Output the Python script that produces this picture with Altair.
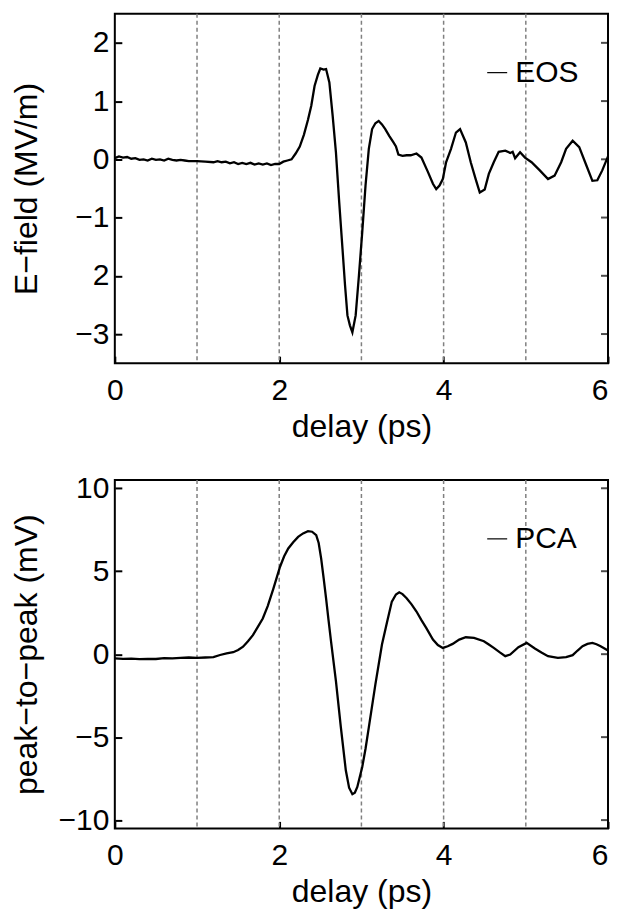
import altair as alt
import pandas as pd

FONT = "Liberation Sans"

# ---- EOS trace (top panel) ----
eos_t = [0.00, 0.05, 0.10, 0.15, 0.20, 0.25, 0.30, 0.35, 0.40, 0.45, 0.50, 0.55,
         0.60, 0.65, 0.70, 0.75, 0.80, 0.85, 0.90, 1.00, 1.10, 1.20, 1.25, 1.30,
         1.35, 1.40, 1.45, 1.50, 1.55, 1.60, 1.65, 1.70, 1.75, 1.80, 1.85, 1.90,
         1.95, 2.00, 2.05, 2.10, 2.15, 2.20, 2.25, 2.30, 2.35, 2.39, 2.43, 2.47,
         2.50, 2.54, 2.57, 2.61, 2.65, 2.69, 2.73, 2.77, 2.80, 2.83, 2.86, 2.89,
         2.93, 2.97, 3.01, 3.05, 3.09, 3.13, 3.17, 3.21, 3.25, 3.29, 3.34, 3.39,
         3.42, 3.45, 3.50, 3.55, 3.60, 3.67, 3.73, 3.81, 3.87, 3.91, 3.95, 3.99,
         4.03, 4.09, 4.15, 4.20, 4.27, 4.33, 4.39, 4.44, 4.50, 4.55, 4.61, 4.67,
         4.75, 4.81, 4.84, 4.87, 4.93, 4.99, 5.07, 5.17, 5.27, 5.35, 5.43, 5.49,
         5.57, 5.65, 5.73, 5.81, 5.87, 5.93, 6.00]
eos_v = [0.02, 0.05, 0.03, 0.04, 0.01, 0.02, -0.01, 0.00, -0.02, 0.01, -0.01, 0.00,
         -0.02, 0.01, -0.01, -0.02, -0.01, -0.02, -0.03, -0.03, -0.04, -0.05, -0.03, -0.05,
         -0.04, -0.07, -0.05, -0.08, -0.06, -0.08, -0.06, -0.09, -0.07, -0.09, -0.07, -0.10,
         -0.08, -0.08, -0.04, -0.02, 0.00, 0.10, 0.22, 0.42, 0.68, 0.92, 1.26, 1.45,
         1.56, 1.54, 1.55, 1.32, 0.75, 0.12, -0.74, -1.54, -2.15, -2.68, -2.85, -2.97,
         -2.68, -1.99, -1.25, -0.45, 0.18, 0.52, 0.62, 0.66, 0.60, 0.52, 0.40, 0.29,
         0.22, 0.08, 0.06, 0.07, 0.07, 0.10, 0.03, -0.22, -0.42, -0.51, -0.45, -0.34,
         -0.05, 0.18, 0.46, 0.52, 0.29, -0.05, -0.34, -0.57, -0.52, -0.25, -0.05, 0.13,
         0.15, 0.11, 0.13, 0.02, 0.12, 0.03, -0.05, -0.19, -0.34, -0.28, -0.05, 0.18,
         0.32, 0.21, -0.08, -0.37, -0.36, -0.19, 0.05]

# ---- PCA trace (bottom panel) ----
pca_t = [0.00, 0.10, 0.20, 0.30, 0.40, 0.50, 0.60, 0.70, 0.80, 0.90, 1.00, 1.10,
         1.20, 1.28, 1.36, 1.44, 1.50, 1.56, 1.62, 1.68, 1.74, 1.80, 1.86, 1.93,
         2.01, 2.06, 2.11, 2.17, 2.23, 2.29, 2.35, 2.40, 2.45, 2.48, 2.51, 2.54,
         2.57, 2.60, 2.63, 2.69, 2.75, 2.81, 2.85, 2.89, 2.92, 2.95, 3.01, 3.05,
         3.09, 3.17, 3.25, 3.31, 3.37, 3.42, 3.46, 3.50, 3.55, 3.61, 3.67, 3.73,
         3.79, 3.87, 3.93, 3.99, 4.05, 4.11, 4.19, 4.27, 4.37, 4.49, 4.55, 4.61,
         4.68, 4.75, 4.81, 4.91, 5.01, 5.11, 5.19, 5.27, 5.39, 5.49, 5.57, 5.63,
         5.69, 5.75, 5.81, 5.86, 5.91, 6.00]
pca_v = [-0.25, -0.28, -0.27, -0.30, -0.28, -0.29, -0.24, -0.25, -0.22, -0.20, -0.22, -0.20,
         -0.18, -0.05, 0.05, 0.12, 0.25, 0.45, 0.78, 1.15, 1.65, 2.15, 2.90, 3.97,
         5.27, 5.90, 6.37, 6.75, 7.07, 7.28, 7.41, 7.38, 7.17, 6.70, 5.77, 4.60,
         3.37, 2.05, 0.78, -1.62, -4.41, -7.00, -8.05, -8.44, -8.35, -8.00, -6.80, -5.70,
         -4.41, -1.82, 0.58, 1.90, 3.17, 3.60, 3.73, 3.62, 3.37, 3.00, 2.57, 2.05,
         1.57, 0.88, 0.55, 0.38, 0.48, 0.62, 0.88, 1.02, 0.98, 0.78, 0.58, 0.38,
         0.12, -0.12, -0.02, 0.42, 0.68, 0.34, 0.10, -0.12, -0.22, -0.18, -0.06, 0.22,
         0.48, 0.62, 0.68, 0.60, 0.48, 0.22]

grid_x = [1, 2, 3, 4, 5]
x_ticks = [0, 2, 4, 6]
eos_y_ticks = [2, 1, 0, -1, -2, -3]
pca_y_ticks = [10, 5, 0, -5, -10]
x_title = "delay (ps)"
eos_title = "E\u2212field (MV/m)"
pca_title = "peak\u2212to\u2212peak (mV)"

W = 494
TICK = 7


def panel(t, v, name, ydom, yticks, ytitle, height, label_expr=None):
    df = pd.DataFrame({"delay": t, "value": v, "series": name})
    xscale = alt.Scale(domain=[0, 6], nice=False, zero=False)
    yscale = alt.Scale(domain=ydom, nice=False, zero=False)

    def x_axis():
        return alt.Axis(values=x_ticks, orient="bottom", offset=-TICK, tickSize=TICK,
                        tickWidth=2, tickColor="black", domain=False, grid=False,
                        labelFlush=False,
                        labelAlign={"condition": {"test": "datum.value == 6",
                                                  "value": "right"},
                                    "value": "center"},
                        labelFont=FONT, labelFontSize=30,
                        labelColor="black", labelPadding=12, title=x_title,
                        titleFont=FONT, titleFontSize=32, titleFontWeight="normal",
                        titleColor="black", titlePadding=6)

    def y_axis():
        kw = dict(values=yticks, orient="left", offset=-TICK, tickSize=TICK,
                  tickWidth=2, tickColor="black", domain=False, grid=False,
                  labelFont=FONT, labelFontSize=30, labelColor="black",
                  labelPadding=6, title=ytitle, titleFont=FONT, titleFontSize=32,
                  titleFontWeight="normal", titleColor="black", titleX=-78)
        if label_expr:
            kw["labelExpr"] = label_expr
        return alt.Axis(**kw)

    grid = alt.Chart(pd.DataFrame({"g": grid_x})).mark_rule(
        color="#808080", strokeDash=[4, 3], strokeWidth=1.5
    ).encode(x=alt.X("g:Q", scale=xscale, axis=x_axis()))

    line = alt.Chart(df).mark_line(strokeWidth=2.3).encode(
        x=alt.X("delay:Q", scale=xscale, axis=x_axis()),
        y=alt.Y("value:Q", scale=yscale, axis=y_axis()),
        color=alt.Color("series:N",
                        scale=alt.Scale(domain=[name], range=["black"]),
                        legend=alt.Legend(title=None, orient="none", legendX=368,
                                          legendY=44, symbolType="stroke",
                                          symbolSize=400, symbolStrokeWidth=1.2,
                                          labelFont=FONT, labelFontSize=30,
                                          labelColor="black", labelOffset=3,
                                          padding=0)),
    )

    # inward tick marks on the right frame edge, at the y tick values
    right_ticks = alt.Chart(pd.DataFrame({"yt": yticks})).mark_tick(
        orient="horizontal", size=TICK, thickness=2, color="black", xOffset=-TICK / 2
    ).encode(
        x=alt.XDatum(6, type="quantitative", scale=xscale, axis=x_axis()),
        y=alt.Y("yt:Q", scale=yscale, axis=y_axis()),
    )

    return alt.layer(grid, line, right_ticks).properties(width=W, height=height)


top = panel(eos_t, eos_v, "EOS", [-3.5, 2.5], eos_y_ticks, eos_title, 350,
            label_expr="datum.value == -2 ? '2' : datum.label")
bottom = panel(pca_t, pca_v, "PCA", [-10.5, 10.5], pca_y_ticks, pca_title, 349)

chart = alt.vconcat(top, bottom, spacing=29).resolve_scale(
    color="independent"
).resolve_legend(color="independent").properties(
    padding={"left": 2, "right": 0, "top": 3, "bottom": 0},
    background="white",
).configure_view(stroke="black", strokeWidth=2)

chart.save("out.html", embed_options={"renderer": "svg", "actions": False})
